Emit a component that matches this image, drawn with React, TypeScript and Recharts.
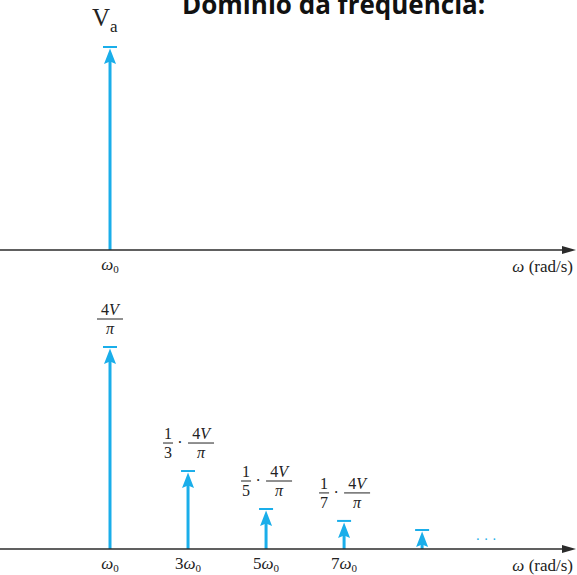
import { BarChart, Bar, XAxis, YAxis, ReferenceLine, ReferenceDot, LabelList } from 'recharts'

// top panel: a single line at w0
const topHarmonics = [1]
const topAmplitudes = [1]

// bottom panel: odd harmonics, amplitude ~ 1/n
const harmonics = [1, 3, 5, 7, 9]
const amplitudes = [1, 0.386, 0.198, 0.139, 0.094]
const denominators = [1, 3, 5, 7, 0] // 0 = no label, 1 = plain 4V/pi
const tickHarmonics = [1, 3, 5, 7]

const BLUE = '#1aaeea'
const AXIS = '#2b2b2b'
const INK = '#222'
const SERIF = '"Liberation Serif", "DejaVu Serif", serif'
const X_DOMAIN: [number, number] = [-1.82, 12.97]
const LIFT = 28

const topData = topHarmonics.map((n, i) => ({ n, amp: topAmplitudes[i] }))
const data = harmonics.map((n, i) => ({ n, amp: amplitudes[i], den: denominators[i] }))

const Impulse = (props: any) => {
  const { x, y, width, height } = props
  if (!height || height <= 0) return null
  const cx = x + width / 2
  const base = y + height
  return (
    <g>
      <line x1={cx} y1={base} x2={cx} y2={y + 10} stroke={BLUE} strokeWidth={3} />
      <path d={`M${cx},${y + 1.5} L${cx - 6},${y + 17} L${cx},${y + 14.5} L${cx + 6},${y + 17} Z`} fill={BLUE} />
      <line x1={cx - 7} x2={cx + 7} y1={y} y2={y} stroke={BLUE} strokeWidth={2} />
    </g>
  )
}

const AxisArrow = (props: any) => {
  const { x1, y1, x2 } = props
  return (
    <g>
      <line x1={x1} y1={y1} x2={x2 - 8} y2={y1} stroke={AXIS} strokeWidth={1.5} />
      <path d={`M${x2 - 1},${y1} L${x2 - 15},${y1 - 4} L${x2 - 15},${y1 + 4} Z`} fill={AXIS} />
      <text x={x2 - 4} y={y1 + 22} textAnchor="end" fontFamily={SERIF} fontSize={17} fill={INK}>
        <tspan fontStyle="italic">ω</tspan> (rad/s)
      </text>
    </g>
  )
}

const OmegaTick = ({ x, y, payload }: any) => (
  <text x={x} y={y} dy={20} textAnchor="middle" fontFamily={SERIF} fontSize={17} fill={INK}>
    {payload.value > 1 ? <tspan>{payload.value}</tspan> : null}
    <tspan fontStyle="italic">ω</tspan>
    <tspan fontSize={11} dy={3}>0</tspan>
  </text>
)

const Frac = ({ cx, y, top, bottom, w }: any) => (
  <g fontFamily={SERIF} fontSize={16} fill={INK}>
    <text x={cx} y={y - 4} textAnchor="middle">{top}</text>
    <line x1={cx - w / 2} x2={cx + w / 2} y1={y} y2={y} stroke={INK} strokeWidth={1} />
    <text x={cx} y={y + 15} textAnchor="middle">{bottom}</text>
  </g>
)

const FourVPi = (cx: number, y: number) => (
  <Frac
    cx={cx}
    y={y}
    w={26}
    top={<><tspan>4</tspan><tspan fontStyle="italic">V</tspan></>}
    bottom={<tspan fontStyle="italic">π</tspan>}
  />
)

const FractionLabel = (props: any) => {
  const { x, y, width, index } = props
  const n = denominators[index]
  if (!n) return null
  const cx = x + width / 2
  const by = y - LIFT
  if (n === 1) return <g>{FourVPi(cx, by)}</g>
  return (
    <g>
      <Frac cx={cx - 20} y={by} w={10} top="1" bottom={String(n)} />
      <text x={cx - 8} y={by + 5} textAnchor="middle" fontFamily={SERIF} fontSize={16} fill={INK}>·</text>
      {FourVPi(cx + 13, by)}
    </g>
  )
}

const VaLabel = (props: any) => {
  const { x, y, width } = props
  const cx = x + width / 2
  return (
    <text x={cx - 18} y={y - 21} fontFamily={SERIF} fontSize={25} fill={INK}>
      V<tspan fontSize={17} dy={6}>a</tspan>
    </text>
  )
}

const Dots = ({ cx, cy }: any) => (
  <text x={cx} y={cy + 4} textAnchor="middle" fontFamily={SERIF} fontSize={14} fill={BLUE}>
    · · ·
  </text>
)

export default function App() {
  return (
    <div style={{ position: 'absolute', left: 0, top: 0, width: 577, height: 575, background: '#fff', overflow: 'hidden' }}>
      <div
        style={{
          position: 'absolute',
          left: 182,
          top: -9,
          whiteSpace: 'nowrap',
          fontFamily: '"Open Sans", sans-serif',
          fontWeight: 700,
          fontSize: 26,
          lineHeight: '26px',
          color: '#111',
        }}
      >
        Domínio da frequência:
      </div>

      <div style={{ position: 'absolute', left: 0, top: 0 }}>
        <BarChart width={577} height={276} data={topData} margin={{ top: 47, right: 0, bottom: 0, left: 0 }}>
          <XAxis
            dataKey="n"
            type="number"
            domain={X_DOMAIN}
            ticks={[1]}
            axisLine={false}
            tickLine={false}
            tickSize={0}
            tickMargin={0}
            height={26}
            tick={<OmegaTick />}
          />
          <YAxis hide domain={[0, 1]} />
          <ReferenceLine y={0} shape={AxisArrow} ifOverflow="visible" />
          <Bar dataKey="amp" barSize={16} shape={Impulse} isAnimationActive={false}>
            <LabelList dataKey="amp" content={VaLabel} />
          </Bar>
        </BarChart>
      </div>

      <div style={{ position: 'absolute', left: 0, top: 290 }}>
        <BarChart width={577} height={285} data={data} margin={{ top: 57, right: 0, bottom: 0, left: 0 }}>
          <XAxis
            dataKey="n"
            type="number"
            domain={X_DOMAIN}
            ticks={tickHarmonics}
            axisLine={false}
            tickLine={false}
            tickSize={0}
            tickMargin={0}
            height={26}
            tick={<OmegaTick />}
          />
          <YAxis hide domain={[0, 1]} />
          <ReferenceLine y={0} shape={AxisArrow} ifOverflow="visible" />
          <ReferenceDot x={10.64} y={0.045} shape={Dots} ifOverflow="visible" />
          <Bar dataKey="amp" barSize={16} shape={Impulse} isAnimationActive={false}>
            <LabelList dataKey="den" content={FractionLabel} />
          </Bar>
        </BarChart>
      </div>
    </div>
  )
}
